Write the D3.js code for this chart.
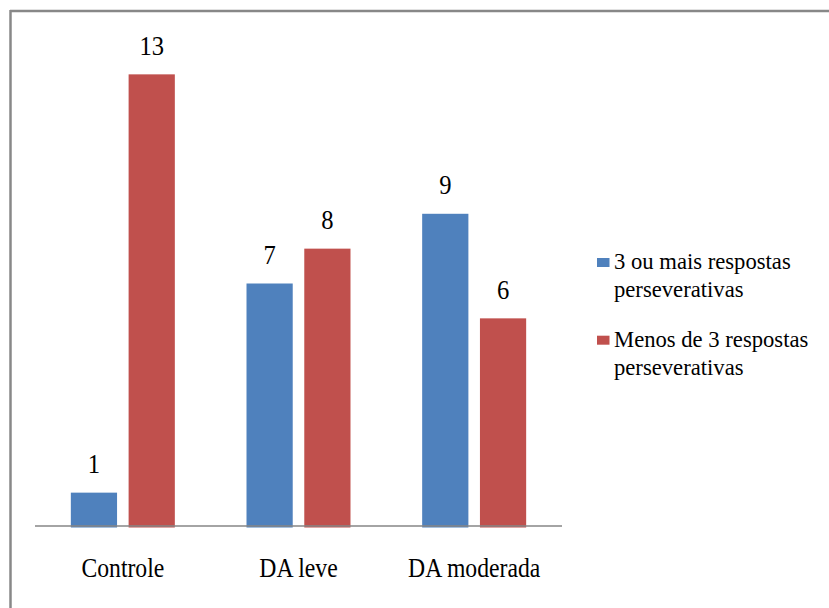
<!DOCTYPE html>
<html>
<head>
<meta charset="utf-8">
<script src="https://cdn.jsdelivr.net/npm/d3@7"></script>
</head>
<body style="margin:0">
<script>
// Groups and counts of participants by number of perseverative responses
const categories = ["Controle", "DA leve", "DA moderada"];
const seriesNames = ["3 ou mais respostas perseverativas", "Menos de 3 respostas perseverativas"];
const legendLines = [["3 ou mais respostas", "perseverativas"], ["Menos de 3 respostas", "perseverativas"]];
const threeOrMore = [1, 7, 9];
const lessThanThree = [13, 8, 6];
const colors = ["#4F81BD", "#C0504D"];

// text is set at a large base size and scaled down to its final size
const FONT = "'Liberation Serif'";
const BASE = "30px";

const W = 829, H = 608;
const svg = d3.select("body").append("svg").attr("width", W).attr("height", H)
  .style("display", "block");

// outer frame (top and left edges)
svg.append("line").attr("x1", 10).attr("x2", W).attr("y1", 11).attr("y2", 11)
  .attr("stroke", "#888").attr("stroke-width", 2.5);
svg.append("line").attr("x1", 10.5).attr("x2", 10.5).attr("y1", 10).attr("y2", H)
  .attr("stroke", "#888").attr("stroke-width", 2.5);

const plot = { left: 35, right: 562, base: 527.5 };

const x = d3.scaleBand().domain(categories)
  .range([plot.left, plot.right]).paddingInner(0.408).paddingOuter(0.204);
const xs = d3.scaleBand().domain(d3.range(seriesNames.length))
  .range([0, x.bandwidth()]).paddingInner(0.2).paddingOuter(0);
const y = d3.scaleLinear().domain([0, 14]).range([plot.base, 39.5]);

const rows = categories.map((c, i) => ({
  cat: c,
  vals: [threeOrMore[i], lessThanThree[i]]
}));

const groups = svg.append("g").selectAll("g").data(rows).join("g")
  .attr("transform", d => `translate(${x(d.cat)},0)`);

groups.selectAll("rect").data(d => d.vals.map((v, s) => ({ v, s }))).join("rect")
  .attr("x", d => xs(d.s))
  .attr("width", xs.bandwidth())
  .attr("y", d => y(d.v))
  .attr("height", d => y(0) - y(d.v))
  .attr("fill", d => colors[d.s]);

// value labels above each bar
groups.selectAll("text.val").data(d => d.vals.map((v, s) => ({ v, s }))).join("text")
  .attr("class", "val")
  .attr("text-anchor", "middle")
  .style("font-family", FONT)
  .style("font-size", BASE)
  .attr("fill", "#000")
  .attr("transform", d => `translate(${xs(d.s) + xs.bandwidth() / 2},${y(d.v) - 19.5}) scale(0.82,0.9)`)
  .text(d => d.v);

// category axis
const axis = svg.append("g").attr("transform", "translate(0,526)")
  .call(d3.axisBottom(x).tickSize(0).tickPadding(0));
axis.attr("font-family", null).attr("font-size", null);
axis.select(".domain").attr("stroke", "#868686").attr("stroke-width", 1.3)
  .attr("d", `M${plot.left},0H${plot.right}`);
axis.selectAll(".tick text")
  .style("font-family", FONT)
  .style("font-size", BASE)
  .attr("fill", "#000")
  .attr("dy", 0)
  .attr("y", 0)
  .attr("transform", "translate(0,51) scale(0.79,0.9)");

// legend
const legend = svg.append("g");
const legendY = [269, 346.7];
seriesNames.forEach((name, i) => {
  const g = legend.append("g").attr("transform", `translate(597,${legendY[i]})`);
  g.append("rect").attr("x", 0).attr("y", -11).attr("width", 12.5).attr("height", 9)
    .attr("fill", colors[i]);
  legendLines[i].forEach((ln, k) => {
    g.append("text")
      .style("font-family", FONT)
      .style("font-size", BASE)
      .attr("fill", "#000")
      .attr("transform", `translate(17,${k * 28}) scale(0.755,0.8)`)
      .text(ln);
  });
});
</script>
</body>
</html>
